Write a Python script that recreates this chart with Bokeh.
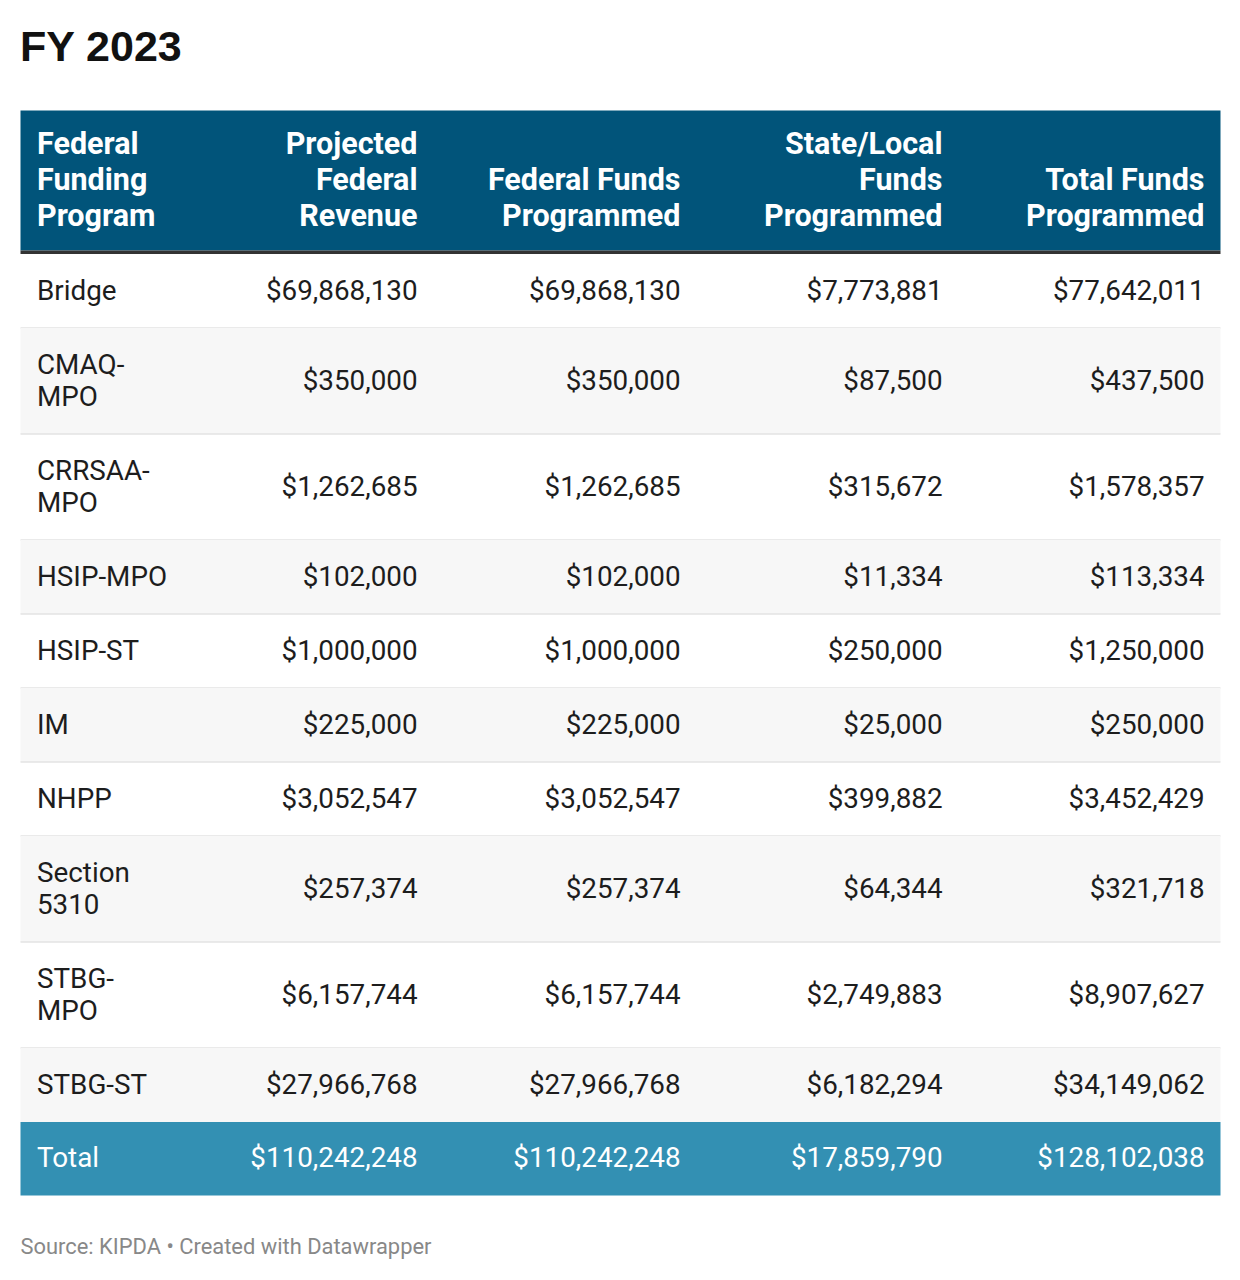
from bokeh.plotting import figure
from bokeh.models import Range1d
from bokeh.core.properties import value
from bokeh.embed import file_html
from bokeh.resources import INLINE

title = "FY 2023"
source_note = "Source: KIPDA • Created with Datawrapper"
headers = ["Federal\nFunding\nProgram", "Projected\nFederal\nRevenue", "Federal Funds\nProgrammed",
           "State/Local\nFunds\nProgrammed", "Total Funds\nProgrammed"]
programs = ["Bridge", "CMAQ-\nMPO", "CRRSAA-\nMPO", "HSIP-MPO", "HSIP-ST", "IM", "NHPP",
            "Section\n5310", "STBG-\nMPO", "STBG-ST"]
projected_revenue = [69868130, 350000, 1262685, 102000, 1000000, 225000, 3052547, 257374, 6157744, 27966768]
federal_programmed = [69868130, 350000, 1262685, 102000, 1000000, 225000, 3052547, 257374, 6157744, 27966768]
state_local_programmed = [7773881, 87500, 315672, 11334, 250000, 25000, 399882, 64344, 2749883, 6182294]
total_programmed = [77642011, 437500, 1578357, 113334, 1250000, 250000, 3452429, 321718, 8907627, 34149062]
total_label = "Total"
total_row = [110242248, 110242248, 17859790, 128102038]

FONT = "Roboto"
W, H = 1224, 1264
p = figure(width=W, height=H, output_backend="svg", toolbar_location=None,
           x_range=Range1d(0, W), y_range=Range1d(H, 0), min_border=0)
p.axis.visible = False
p.grid.visible = False
p.outline_line_color = None
p.background_fill_color = "white"

L, R = 20, 1220
col_left = 36.5
col_right = [417, 680, 942, 1204]
LINE = 32

def fmt(v):
    return "${:,}".format(v)

# title
p.text(x=[19.5], y=[45], text=[title], text_font=value("Liberation Sans"), text_font_style="bold",
       text_font_size="43px", text_color="#111111", text_baseline="middle", text_align="left")

# header
p.quad(left=[L], right=[R], top=[110], bottom=[250], fill_color="#01547a", line_color=None)
p.quad(left=[L], right=[R], top=[250], bottom=[253.5], fill_color="#333333", line_color=None)
hx, hy, ht, ha = [], [], [], []
for ci, h in enumerate(headers):
    lines = h.split("\n")
    n = len(lines)
    for li, ln in enumerate(lines):
        hx.append(col_left if ci == 0 else col_right[ci - 1])
        hy.append(215 - (n - 1 - li) * 36)
        ht.append(ln)
        ha.append("left" if ci == 0 else "right")
p.text(x=hx, y=hy, text=ht, text_align=ha, text_baseline="middle", text_font=value(FONT),
       text_font_style="bold", text_font_size="30.5px", text_color="white")

# body rows
top = 253.5
bx, by, bt, ba = [], [], [], []
for ri, prog in enumerate(programs):
    lines = prog.split("\n")
    n = len(lines)
    h = 42 + LINE * n
    bottom = top + h
    if ri % 2 == 1:
        p.quad(left=[L], right=[R], top=[top], bottom=[bottom], fill_color="#f7f7f7", line_color=None)
    if ri < len(programs) - 1:
        p.segment(x0=[L], x1=[R], y0=[bottom], y1=[bottom], line_color="#e3e3e3", line_width=1.5)
    cy = (top + bottom) / 2 - 0.8
    for li, ln in enumerate(lines):
        bx.append(col_left)
        by.append(cy + (li - (n - 1) / 2) * LINE)
        bt.append(ln)
        ba.append("left")
    vals = [projected_revenue[ri], federal_programmed[ri], state_local_programmed[ri], total_programmed[ri]]
    for ci, v in enumerate(vals):
        bx.append(col_right[ci])
        by.append(cy)
        bt.append(fmt(v))
        ba.append("right")
    top = bottom
p.text(x=bx, y=by, text=bt, text_align=ba, text_baseline="middle", text_font=value(FONT),
       text_font_size="27.8px", text_color="#1d1d1d")

# total row
t_bottom = top + 73.5
p.quad(left=[L], right=[R], top=[top], bottom=[t_bottom], fill_color="#3390b3", line_color=None)
cy = (top + t_bottom) / 2 - 0.8
tx = [col_left] + col_right
tt = [total_label] + [fmt(v) for v in total_row]
ta = ["left"] + ["right"] * 4
p.text(x=tx, y=[cy] * 5, text=tt, text_align=ta, text_baseline="middle", text_font=value(FONT),
       text_font_size="27.8px", text_color="white")

# source
p.text(x=[20], y=[1246], text=[source_note], text_font=value(FONT), text_font_size="21.9px",
       text_color="#888888", text_baseline="middle", text_align="left")

open("out.html", "w").write(file_html(p, INLINE))
